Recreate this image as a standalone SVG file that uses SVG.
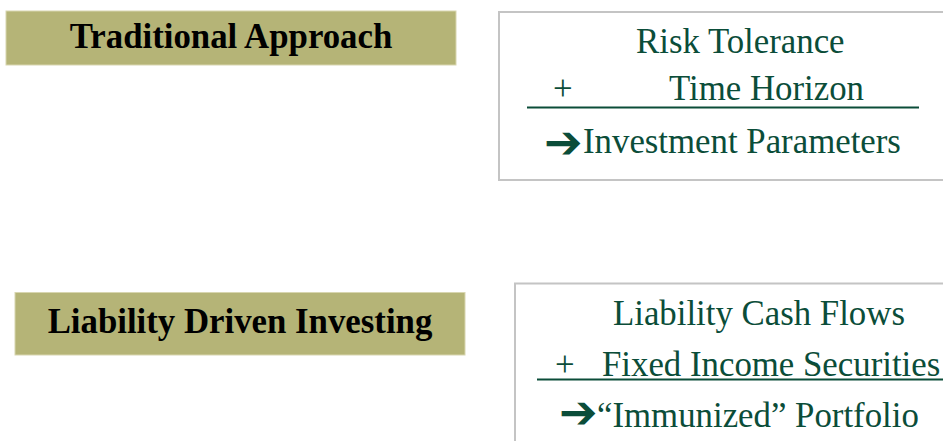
<svg xmlns="http://www.w3.org/2000/svg" width="943" height="441" viewBox="0 0 943 441">
<style>
.title{fill:#b5b477;stroke:#d8d6b0;stroke-width:1}
.hd{font-family:"Liberation Serif","Times New Roman",serif;font-weight:bold;font-size:34.8px;fill:#000;text-anchor:middle}
.box{fill:#fff;stroke:#c4c4c4;stroke-width:2}
.tx{font-family:"Liberation Serif","Times New Roman",serif;font-size:34.8px;fill:#0b4d39}
.ar{font-family:"DejaVu Sans",sans-serif;font-weight:bold;font-size:46px;fill:#0b4d39}
.ul{stroke:#0b4d39;stroke-width:2.2}
</style>
<rect width="943" height="441" fill="#fff"/>
<g id="traditional">
<rect class="title" x="6" y="11" width="450" height="54"/>
<text class="hd" x="231" y="48">Traditional Approach</text>
</g>
<g id="traditional-box">
<rect class="box" x="499" y="12" width="460" height="168"/>
<text class="tx" x="636" y="53">Risk Tolerance</text>
<text class="tx" x="553" y="100">+</text>
<text class="tx" x="669" y="100">Time Horizon</text>
<line class="ul" x1="527" y1="107.5" x2="919" y2="107.5"/>
<text class="ar" x="544" y="158">➔</text>
<text class="tx" x="583" y="153">Investment Parameters</text>
</g>
<g id="ldi">
<rect class="title" x="15" y="292.5" width="450" height="62.5"/>
<text class="hd" x="240" y="333">Liability Driven Investing</text>
</g>
<g id="ldi-box">
<rect class="box" x="515" y="283.5" width="460" height="200"/>
<text class="tx" x="613" y="325">Liability Cash Flows</text>
<text class="tx" x="555" y="376">+</text>
<text class="tx" x="602" y="376">Fixed Income Securities</text>
<line class="ul" x1="537" y1="379.5" x2="943" y2="379.5"/>
<text class="ar" x="559" y="428">➔</text>
<text class="tx" x="597" y="427">“Immunized” Portfolio</text>
</g>
<g id="connectors"/>
</svg>
